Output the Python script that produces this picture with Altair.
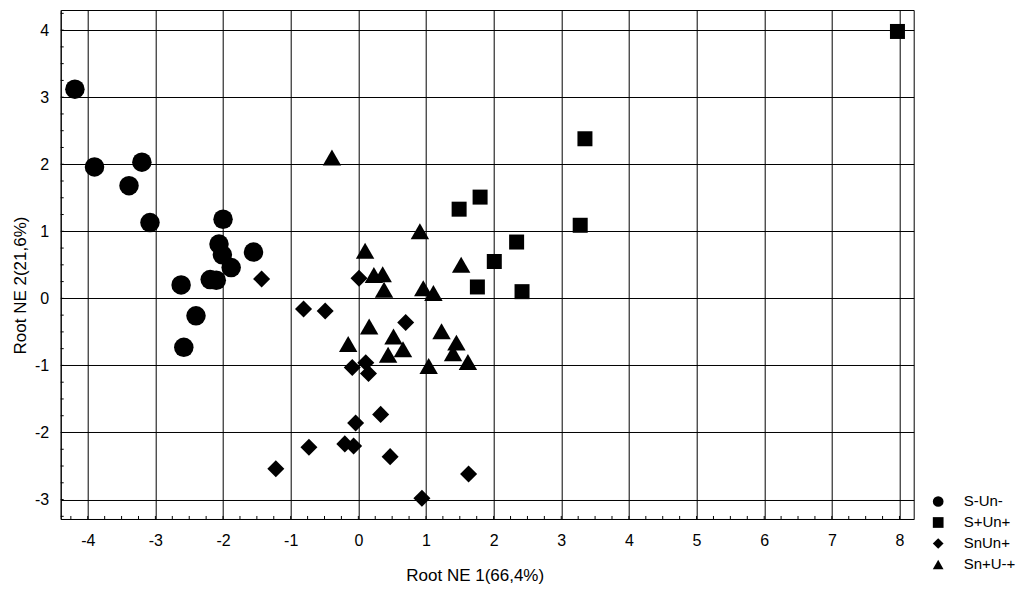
import altair as alt
import pandas as pd

groups = ["S-Un-", "S+Un+", "SnUn+", "Sn+U-+"]

s_un_minus_x = [-4.19, -3.90, -3.20, -3.39, -3.08, -2.00, -2.06, -2.01, -1.88, -1.55, -2.62, -2.19, -2.10, -2.40, -2.58]
s_un_minus_y = [3.12, 1.96, 2.03, 1.68, 1.13, 1.18, 0.81, 0.65, 0.46, 0.69, 0.20, 0.28, 0.27, -0.26, -0.73]

s_plus_un_plus_x = [1.80, 1.49, 3.28, 2.34, 2.01, 1.76, 2.42, 3.35, 7.97]
s_plus_un_plus_y = [1.51, 1.33, 1.09, 0.84, 0.55, 0.17, 0.10, 2.38, 3.98]

snun_plus_x = [-1.43, -0.81, -0.49, 0.01, 0.70, -0.09, 0.11, 0.15, 0.33, -0.04, -0.20, -0.07, -0.73, 0.47, -1.22, 0.94, 1.63]
snun_plus_y = [0.29, -0.16, -0.19, 0.30, -0.36, -1.03, -0.96, -1.12, -1.73, -1.86, -2.17, -2.20, -2.22, -2.36, -2.54, -2.98, -2.62]

sn_plus_u_x = [-0.39, 0.91, 0.10, 0.23, 0.36, 0.38, 0.96, 1.11, 1.52, 0.16, -0.15, 0.52, 0.66, 0.44, 1.04, 1.23, 1.45, 1.40, 1.62]
sn_plus_u_y = [2.10, 1.00, 0.71, 0.35, 0.36, 0.13, 0.15, 0.08, 0.50, -0.42, -0.68, -0.57, -0.76, -0.84, -1.01, -0.49, -0.66, -0.82, -0.95]

x_ticks = [-4, -3, -2, -1, 0, 1, 2, 3, 4, 5, 6, 7, 8]
y_ticks = [-3, -2, -1, 0, 1, 2, 3, 4]
x_minor = [i / 4 for i in range(-17, 33)]
y_minor = [i / 4 for i in range(-13, 18)]

rows = []
for g, xs, ys in zip(groups,
                     [s_un_minus_x, s_plus_un_plus_x, snun_plus_x, sn_plus_u_x],
                     [s_un_minus_y, s_plus_un_plus_y, snun_plus_y, sn_plus_u_y]):
    for a, b in zip(xs, ys):
        rows.append({"x": a, "y": b, "group": g})
df = pd.DataFrame(rows)

W, H = 853, 509
FONT = "Liberation Sans"
marker_sizes = {"S-Un-": 380, "S+Un+": 225, "SnUn+": 290, "Sn+U-+": 340}

xscale = alt.Scale(domain=[-4.40, 8.21], nice=False, zero=False)
yscale = alt.Scale(domain=[-3.29, 4.30], nice=False, zero=False)

label_expr = "'' + datum.value"
xaxis = alt.Axis(values=x_ticks, title="Root NE 1(66,4%)", ticks=False,
                 labelPadding=14, labelFontSize=16, titleFontSize=17,
                 titleFontWeight="normal", titleX=414, titleY=62,
                 titleBaseline="alphabetic", labelExpr=label_expr)
yaxis = alt.Axis(values=y_ticks, title="Root NE 2(21,6%)", ticks=False,
                 labelPadding=12, labelFontSize=16, titleFontSize=17,
                 titleFontWeight="normal", titleX=-40, titleY=275,
                 titleAngle=270, titleBaseline="middle", labelExpr=label_expr)

shape_enc = alt.Shape(
    "group:N",
    scale=alt.Scale(domain=groups, range=["circle", "square", "diamond", "triangle-up"]),
    legend=alt.Legend(title=None, orient="none", legendX=870, legendY=484,
                      labelFontSize=15, symbolSize=115, rowPadding=5,
                      labelOffset=18, symbolFillColor="black",
                      symbolStrokeWidth=0, padding=0, labelFont=FONT),
)

base = alt.Chart(df)
point_layers = []
for g in groups:
    point_layers.append(
        base.transform_filter(alt.datum.group == g)
        .mark_point(filled=True, opacity=1, color="black", strokeWidth=0, size=marker_sizes[g])
        .encode(
            x=alt.X("x:Q", scale=xscale, axis=xaxis),
            y=alt.Y("y:Q", scale=yscale, axis=yaxis),
            shape=shape_enc,
        )
    )

xminor_df = pd.DataFrame({"x": x_minor})
yminor_df = pd.DataFrame({"y": y_minor})

bottom_ticks = alt.Chart(xminor_df).mark_rule(color="black", strokeWidth=1).encode(
    x=alt.X("x:Q", scale=xscale, axis=xaxis),
    y=alt.value(H), y2=alt.value(H - 3),
)
left_ticks = alt.Chart(yminor_df).mark_rule(color="black", strokeWidth=1).encode(
    y=alt.Y("y:Q", scale=yscale, axis=yaxis),
    x=alt.value(0), x2=alt.value(3),
)

chart = alt.layer(*point_layers, bottom_ticks, left_ticks).properties(
    width=W, height=H,
    autosize=alt.AutoSizeParams(type="none"),
    padding={"left": 52.7, "top": 2, "right": 111, "bottom": 71},
).configure_axis(
    grid=True, gridColor="black", gridOpacity=1, gridWidth=1,
    domainColor="black", domainWidth=1, labelColor="black", titleColor="black",
    labelFont=FONT, titleFont=FONT,
).configure_view(
    stroke="black", strokeWidth=1,
).configure_legend(
    labelColor="black",
)

chart.save("out.html", embed_options={"renderer": "svg", "actions": False})
